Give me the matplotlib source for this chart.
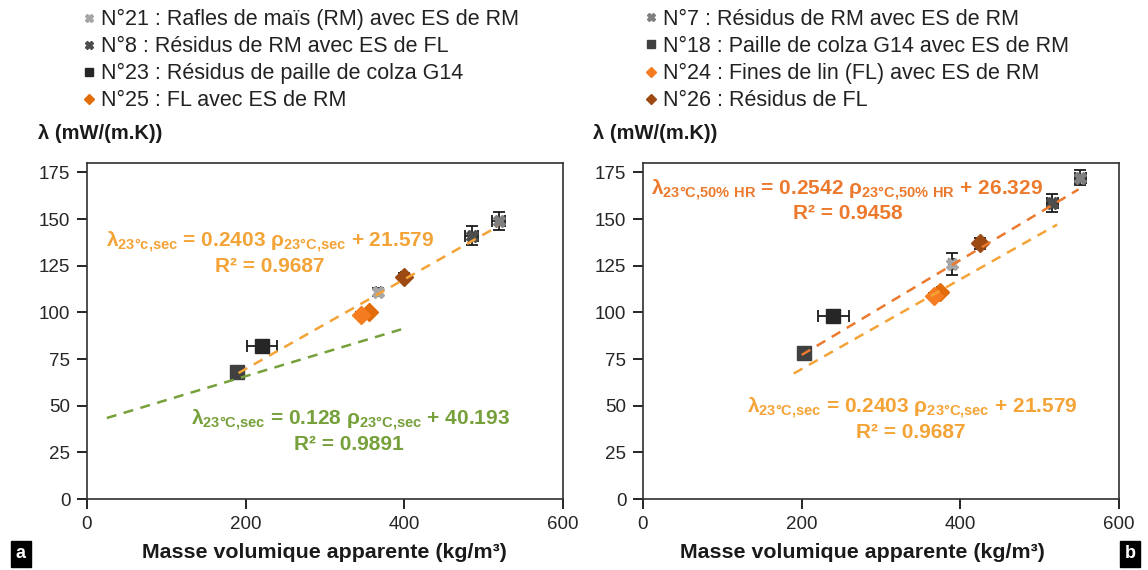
import matplotlib
matplotlib.use("Agg")
import matplotlib.pyplot as plt
from matplotlib.lines import Line2D
import numpy as np

plt.rcParams["font.family"] = ["Liberation Sans", "DejaVu Sans"]
plt.rcParams["mathtext.default"] = "regular"

# ---------------------------------------------------------------
# Data
# ---------------------------------------------------------------
series_names = ["N°21", "N°8", "N°23", "N°25", "N°7", "N°18", "N°24", "N°26"]
series_labels = [
    "N°21 : Rafles de maïs (RM) avec ES de RM",
    "N°8 : Résidus de RM avec ES de FL",
    "N°23 : Résidus de paille de colza G14",
    "N°25 : FL avec ES de RM",
    "N°7 : Résidus de RM avec ES de RM",
    "N°18 : Paille de colza G14 avec ES de RM",
    "N°24 : Fines de lin (FL) avec ES de RM",
    "N°26 : Résidus de FL",
]
series_colors = ["#A6A6A6", "#4D4D4D", "#262626", "#E36C0A",
                 "#7F7F7F", "#404040", "#F57C20", "#9C4A12"]
series_markers = ["X", "X", "s", "D", "X", "s", "D", "D"]

# panel a : dry state (23°C, sec)
rho_a = [367, 485, 221, 356, 519, 189, 346, 399]
lam_a = [111, 141, 82, 100, 149, 68, 98.5, 119]
rho_err_a = [3, 8, 19, 3, 8, 0, 3, 3]
lam_err_a = [2, 5, 1.5, 1.5, 5, 0, 1.5, 2]

# panel b : 23°C, 50% HR
rho_b = [389, 516, 240, 374, 551, 203, 367, 425]
lam_b = [126, 158.5, 98, 111, 172, 78, 109, 137]
rho_err_b = [3, 7, 20, 3, 7, 0, 3, 3]
lam_err_b = [6, 5, 1.5, 1.5, 4, 0, 1.5, 3]

# linear fits  (slope, intercept, x start, x end)
fit_a_sec = (0.2403, 21.579, 191, 518)
fit_a_green = (0.128, 40.193, 25, 396)
fit_b_hr = (0.2542, 26.329, 200, 549)
fit_b_sec = (0.2403, 21.579, 190, 522)

x_ticks = [0, 200, 400, 600]
y_ticks = [0, 25, 50, 75, 100, 125, 150, 175]

ORANGE_LIGHT = "#F4A337"
ORANGE_DARK = "#EB7A2E"
GREEN = "#76A03A"

W, H = 1148, 570


def _fit_line(ax, fit, color):
    """Draw a dashed trend line from slope/intercept."""
    slope, intercept, x0, x1 = fit
    xs = np.array([x0, x1])
    ax.plot(xs, slope * xs + intercept, color=color, linestyle=(0, (4, 3)),
            linewidth=1.8, zorder=4)


def _points(ax, rho, lam, rho_err, lam_err):
    """Plot each series with its error bars."""
    for i in range(len(series_names)):
        xe = rho_err[i] if rho_err[i] > 0 else None
        ye = lam_err[i] if lam_err[i] > 0 else None
        ax.errorbar(rho[i], lam[i], xerr=xe, yerr=ye, fmt="none",
                    ecolor="#1a1a1a", elinewidth=1.3, capsize=4,
                    capthick=1.3, zorder=3)
        ms = 10 if series_markers[i] == "s" else 9
        ax.plot(rho[i], lam[i], linestyle="none",
                marker=series_markers[i], color=series_colors[i],
                markersize=ms, zorder=3)


def _configure(ax):
    ax.set_xlim(0, 600)
    ax.set_ylim(0, 180)
    ax.set_xticks(x_ticks)
    ax.set_yticks(y_ticks)
    ax.tick_params(direction="out", length=7, width=1.2,
                   labelsize=13.5, labelcolor="#262626", pad=5)
    for sp in ax.spines.values():
        sp.set_color("#303030")
        sp.set_linewidth(1.2)


fig = plt.figure(figsize=(W / 100, H / 100), dpi=100)
ax_a = fig.add_axes([87 / W, 71 / H, (563 - 87) / W, (499 - 163) / H])
ax_b = fig.add_axes([643 / W, 71 / H, (1119 - 643) / W, (499 - 163) / H])

# ----- panel a -----
_fit_line(ax_a, fit_a_sec, ORANGE_LIGHT)
_fit_line(ax_a, fit_a_green, GREEN)
_points(ax_a, rho_a, lam_a, rho_err_a, lam_err_a)
_configure(ax_a)

eq_kw = dict(ha="center", va="center", fontsize=15, fontweight="bold")
fig.text(270 / W, 1 - 242 / H,
         r"$λ_{23°c{,}sec}$ = 0.2403 $ρ_{23°C{,}sec}$ + 21.579",
         color=ORANGE_LIGHT, **eq_kw)
fig.text(270 / W, 1 - 267 / H, "R² = 0.9687", color=ORANGE_LIGHT, **eq_kw)
fig.text(350 / W, 1 - 420 / H,
         r"$λ_{23°C{,}sec}$ = 0.128 $ρ_{23°C{,}sec}$ + 40.193",
         color=GREEN, **eq_kw)
fig.text(349 / W, 1 - 445 / H, "R² = 0.9891", color=GREEN, **eq_kw)

# ----- panel b -----
_fit_line(ax_b, fit_b_hr, ORANGE_DARK)
_fit_line(ax_b, fit_b_sec, ORANGE_LIGHT)
_points(ax_b, rho_b, lam_b, rho_err_b, lam_err_b)
_configure(ax_b)

fig.text(847 / W, 1 - 190 / H,
         r"$λ_{23°C{,}50\%\ HR}$ = 0.2542 $ρ_{23°C{,}50\%\ HR}$ + 26.329",
         color=ORANGE_DARK, **eq_kw)
fig.text(848 / W, 1 - 213 / H, "R² = 0.9458", color=ORANGE_DARK, **eq_kw)
fig.text(912 / W, 1 - 408 / H,
         r"$λ_{23°C{,}sec}$ = 0.2403 $ρ_{23°C{,}sec}$ + 21.579",
         color=ORANGE_LIGHT, **eq_kw)
fig.text(911 / W, 1 - 432 / H, "R² = 0.9687", color=ORANGE_LIGHT, **eq_kw)

# ----- axis titles -----
for x in (38, 593):
    fig.text(x / W, 1 - 133 / H, "λ (mW/(m.K))", ha="left", va="center",
             fontsize=14.5, fontweight="bold", color="#1a1a1a")
for x in (324, 862):
    fig.text(x / W, 1 - 553 / H, "Masse volumique apparente (kg/m³)",
             ha="center", va="center", fontsize=15.4, fontweight="bold",
             color="#1a1a1a")

# panel tags
box = dict(boxstyle="square,pad=0.25", facecolor="black", edgecolor="black")
fig.text(21 / W, 1 - 554 / H, "a", ha="center", va="center", fontsize=13,
         fontweight="bold", color="white", bbox=box)
fig.text(1130 / W, 1 - 554 / H, "b", ha="center", va="center", fontsize=13,
         fontweight="bold", color="white", bbox=box)

# ----- legend (two columns of four) -----
handles = [
    Line2D([], [], linestyle="none", marker=series_markers[i],
           color=series_colors[i], markersize=5.5)
    for i in range(len(series_names))
]
leg_kw = dict(loc="upper left", frameon=False, fontsize=15.5,
              handlelength=0.45, handletextpad=0.35, labelspacing=0.28,
              borderaxespad=0, borderpad=0, labelcolor="#222222")
fig.legend(handles[:4], series_labels[:4],
           bbox_to_anchor=(84 / W, 1 - 9 / H), **leg_kw)
fig.legend(handles[4:], series_labels[4:],
           bbox_to_anchor=(646 / W, 1 - 9 / H), **leg_kw)

fig.savefig("out.png", dpi=100)
